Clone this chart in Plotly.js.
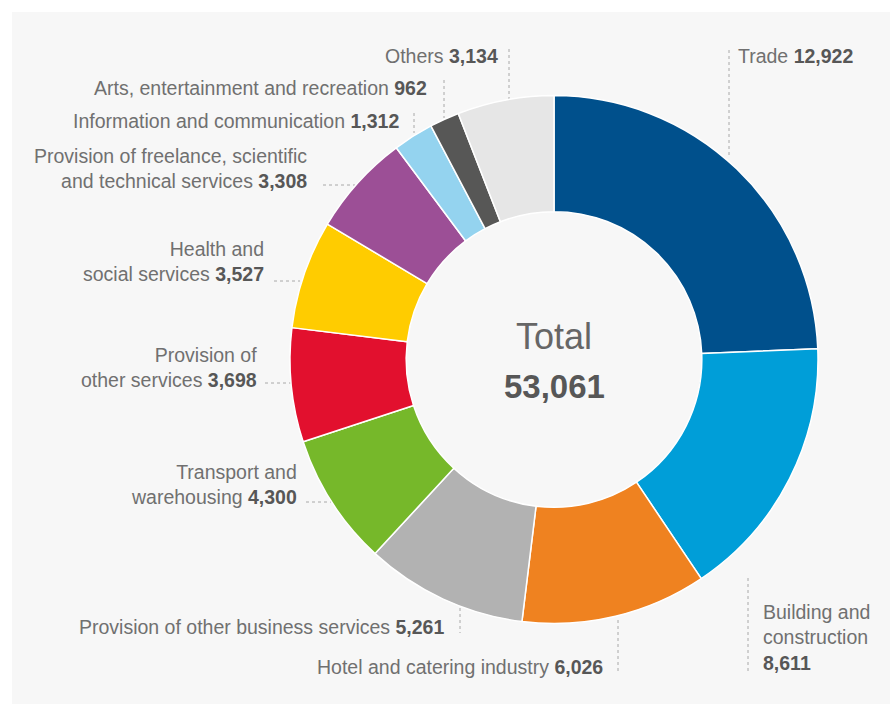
<!DOCTYPE html>
<html>
<head>
<meta charset="utf-8">
<script src="https://cdn.plot.ly/plotly-3.0.1.min.js"></script>
<style>
  html, body { margin: 0; padding: 0; background: #ffffff; }
  #chart { position: absolute; left: 12px; top: 12px; width: 878px; height: 692px; }
</style>
</head>
<body>
<div id="chart"></div>
<script>
// ---- Data ----
const categories = [
  "Trade",
  "Building and construction",
  "Hotel and catering industry",
  "Provision of other business services",
  "Transport and warehousing",
  "Provision of other services",
  "Health and social services",
  "Provision of freelance, scientific and technical services",
  "Information and communication",
  "Arts, entertainment and recreation",
  "Others"
];
const labelNames = [
  "Trade",
  "Building and<br>construction<br>",
  "Hotel and catering industry",
  "Provision of other business services",
  "Transport and<br>warehousing",
  "Provision of<br>other services",
  "Health and<br>social services",
  "Provision of freelance, scientific<br>and technical services",
  "Information and communication",
  "Arts, entertainment and recreation",
  "Others"
];
const values = [12922, 8611, 6026, 5261, 4300, 3698, 3527, 3308, 1312, 962, 3134];
const colors = ["#00508c", "#009ed8", "#ef8220", "#b2b2b2", "#76b82a", "#e2102e",
                "#ffcc00", "#9c4f96", "#94d3ef", "#575756", "#e6e6e6"];
const totalLabel = "Total";

// ---- Layout helpers (pixel positions inside the 878x692 panel) ----
const W = 878, H = 692, OFF = 12;
const px = x => (x - OFF) / W;
const py = y => 1 - (y - OFF) / H;

// label anchor: [x, y, xanchor]
const labelPos = [
  [736, 56, "left"],
  [761, 637, "left"],
  [605, 667, "right"],
  [446, 627, "right"],
  [299, 484.5, "right"],
  [259, 367.5, "right"],
  [266, 261.5, "right"],
  [309, 168.5, "right"],
  [401, 121, "right"],
  [429, 88, "right"],
  [500, 56, "right"]
];
// leader lines: [x0, y0, x1, y1]
const leaders = [
  [729, 50, 729, 158],
  [748, 578, 748, 673],
  [618, 620, 618, 673],
  [460, 608, 460, 633],
  [306, 502, 331, 502],
  [265, 383, 292, 383],
  [274, 281, 300, 281],
  [323, 185, 355, 185],
  [414, 113, 414, 133],
  [444, 80, 444, 118],
  [509, 49, 509, 99]
];

const fontFam = "'Liberation Sans', Arial, sans-serif";
const fmt = v => v.toLocaleString("en-US");
const total = values.reduce((a, b) => a + b, 0);

const annotations = categories.map((c, i) => {
  const sep = labelNames[i].endsWith("<br>") ? "" : " ";
  return {
    xref: "paper", yref: "paper",
    x: px(labelPos[i][0]), y: py(labelPos[i][1]),
    xanchor: labelPos[i][2], yanchor: "middle",
    align: labelPos[i][2],
    showarrow: false,
    text: labelNames[i] + sep + "<b style='color:#575757'>" + fmt(values[i]) + "</b>",
    font: { family: fontFam, size: 19.5, color: "#707070" }
  };
});
annotations.push({
  xref: "paper", yref: "paper", x: px(554), y: py(336), xanchor: "center", yanchor: "middle",
  showarrow: false, text: totalLabel,
  font: { family: fontFam, size: 36, color: "#666666" }
});
annotations.push({
  xref: "paper", yref: "paper", x: px(554), y: py(386), xanchor: "center", yanchor: "middle",
  showarrow: false, text: "<b>" + fmt(total) + "</b>",
  font: { family: fontFam, size: 33, color: "#575757" }
});

const shapes = leaders.map(l => ({
  type: "line", xref: "paper", yref: "paper",
  x0: px(l[0]), y0: py(l[1]), x1: px(l[2]), y1: py(l[3]),
  line: { color: "#a8a8a8", width: 1, dash: "dot" },
  layer: "below"
}));

// donut geometry: center and radius in page px
const cx = 554, cy = 359.5, R = 264;

const trace = {
  type: "pie",
  labels: categories,
  values: values,
  sort: false,
  direction: "clockwise",
  rotation: 0,
  hole: 0.56,
  textinfo: "none",
  hoverinfo: "label+value",
  marker: { colors: colors, line: { color: "#ffffff", width: 1.5 } },
  domain: { x: [px(cx - R), px(cx + R)], y: [py(cy + R), py(cy - R)] },
  showlegend: false
};

const layout = {
  width: W, height: H,
  margin: { l: 0, r: 0, t: 0, b: 0 },
  paper_bgcolor: "#f7f7f7",
  showlegend: false,
  annotations: annotations,
  shapes: shapes
};

Plotly.newPlot("chart", [trace], layout, { staticPlot: true, displayModeBar: false });
</script>
</body>
</html>
